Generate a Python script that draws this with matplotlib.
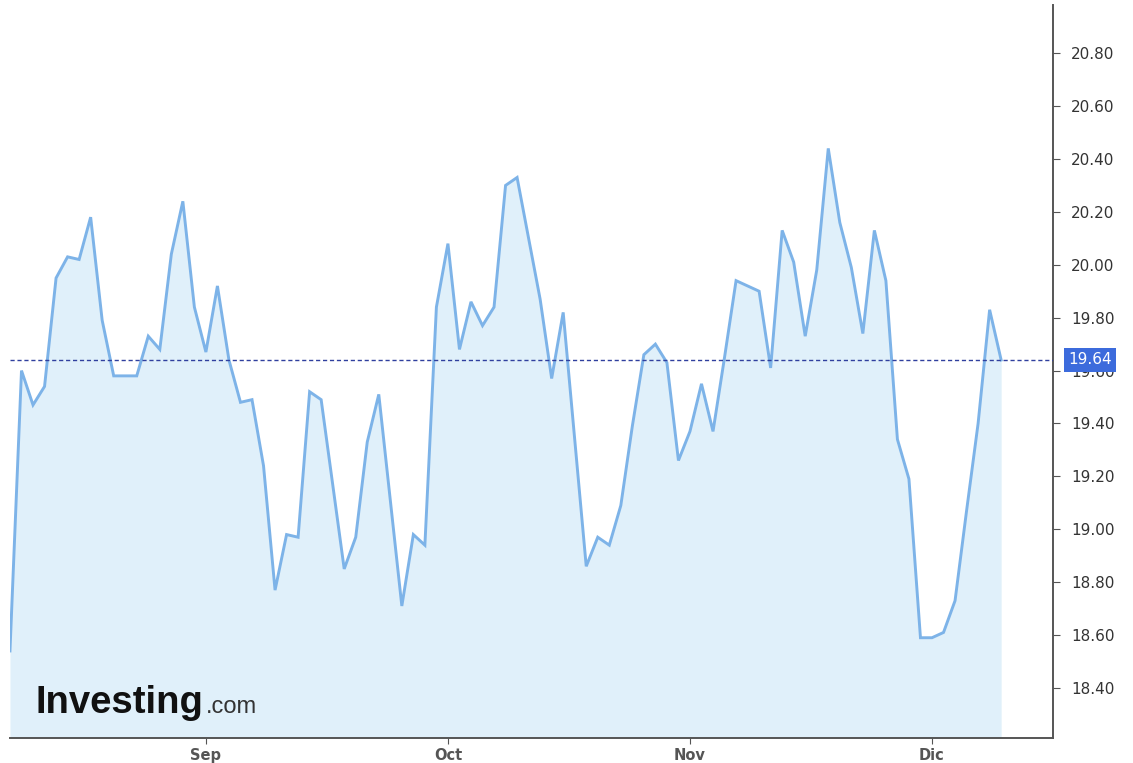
"""
USD/MXN-style daily close chart, Investing.com look
"""

import matplotlib
matplotlib.use('Agg')

import matplotlib.pyplot as plt
import matplotlib.transforms as mtransforms
import numpy as np

# Daily closes (trading days, ordinal axis)
closes = [
    18.54, 19.60, 19.47, 19.54, 19.95, 20.03, 20.02, 20.18, 19.79, 19.58,
    19.58, 19.58, 19.73, 19.68, 20.04, 20.24, 19.84, 19.67, 19.92, 19.64,
    19.48, 19.49, 19.24, 18.77, 18.98, 18.97, 19.52, 19.49, 19.17, 18.85,
    18.97, 19.33, 19.51, 19.11, 18.71, 18.98, 18.94, 19.84, 20.08, 19.68,
    19.86, 19.77, 19.84, 20.30, 20.33, 20.10, 19.87, 19.57, 19.82, 19.34,
    18.86, 18.97, 18.94, 19.09, 19.39, 19.66, 19.70, 19.63, 19.26, 19.37,
    19.55, 19.37, 19.65, 19.94, 19.92, 19.90, 19.61, 20.13, 20.01, 19.73,
    19.98, 20.44, 20.16, 19.99, 19.74, 20.13, 19.94, 19.34, 19.19, 18.59,
    18.59, 18.61, 18.73, 19.07, 19.40, 19.83, 19.64,
]
last_value = 19.64

# Month ticks (index of first trading day of each month)
month_idx = [17, 38, 59, 80]
month_labels = ['Sep', 'Oct', 'Nov', 'Dic']

y_ticks = [18.40, 18.60, 18.80, 19.00, 19.20, 19.40, 19.60, 19.80,
           20.00, 20.20, 20.40, 20.60, 20.80]

x = np.arange(len(closes))
y = np.array(closes)

fig = plt.figure(figsize=(11.33, 7.63), dpi=100)
ax = fig.add_axes([0.0088, 0.0328, 0.9206, 0.9606])

ax.fill_between(x, y, 18.0, color='#e0f0fa', lw=0, zorder=1)
ax.plot(x, y, color='#7db3e8', lw=2.1, solid_joinstyle='miter', zorder=3)
ax.axhline(last_value, color='#2f3f9e', lw=1.0, dashes=(3, 2), zorder=4)

ax.set_xlim(0, 90.5)
ax.set_ylim(18.211, 20.982)

# spines
for side in ('left', 'top'):
    ax.spines[side].set_visible(False)
for side in ('right', 'bottom'):
    ax.spines[side].set_color('#555555')
    ax.spines[side].set_linewidth(1.4)

ax.yaxis.tick_right()
ax.set_yticks(y_ticks)
ax.set_yticklabels([f'{v:.2f}' for v in y_ticks])
ax.tick_params(axis='y', length=5, pad=8, color='#555555', labelsize=11,
               labelcolor='#333333')

ax.set_xticks(month_idx)
ax.set_xticklabels(month_labels)
ax.tick_params(axis='x', length=4, pad=3, color='#555555', labelsize=10.5,
               labelcolor='#555555')
for lbl in ax.get_xticklabels():
    lbl.set_fontweight('bold')

# last price tag on the axis (covers the 19.60 label, as in the original)
trans = mtransforms.blended_transform_factory(ax.transAxes, ax.transData)
ax.text(1.0145, last_value, f'{last_value:.2f}', transform=trans,
        ha='left', va='center', color='white', fontsize=11, zorder=10,
        bbox=dict(boxstyle='square,pad=0.3', fc='#3c6bdc', ec='none'),
        clip_on=False)

# watermark logo
fig.text(0.031, 0.0655, 'Investing', fontsize=27.5, fontweight='bold',
         family='Liberation Sans', color='#111111', va='baseline', zorder=20)
fig.text(0.1815, 0.0655, '.com', fontsize=17, family='Liberation Sans',
         color='#333333', va='baseline', zorder=20)

plt.savefig('out.png', dpi=100)
plt.close()
